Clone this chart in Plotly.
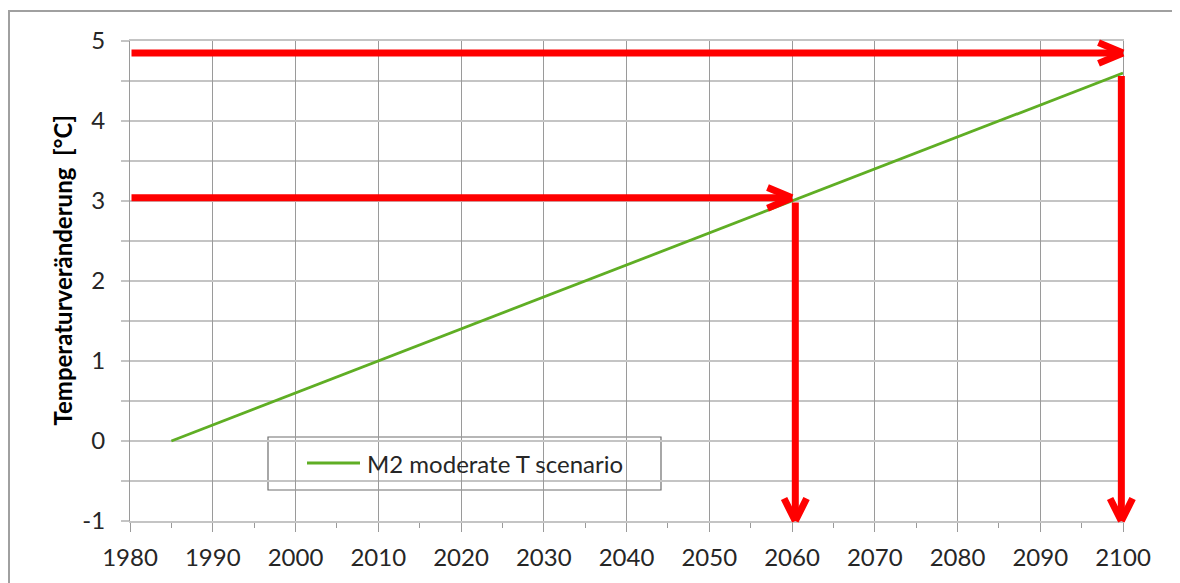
import plotly.graph_objects as go

# ---- data ----
years = [1985, 1990, 1995, 2000, 2005, 2010, 2015, 2020, 2025, 2030, 2035, 2040,
         2045, 2050, 2055, 2060, 2065, 2070, 2075, 2080, 2085, 2090, 2095, 2100]
temp_change = [0.0, 0.2, 0.4, 0.6, 0.8, 1.0, 1.2, 1.4, 1.6, 1.8, 2.0, 2.2,
               2.4, 2.6, 2.8, 3.0, 3.2, 3.4, 3.6, 3.8, 4.0, 4.2, 4.4, 4.6]
series_name = "M2 moderate T scenario"

# red reading arrows (start -> tip), in data units
arrow_x_start = [1980, 1980, 2060.4, 2099.8]
arrow_y_start = [4.85, 3.04, 3.0, 4.58]
arrow_x_tip = [2100, 2060, 2060.4, 2099.8]
arrow_y_tip = [4.85, 3.04, -1.0, -1.0]
arrow_dir = ["right", "right", "down", "down"]

x_ticks = list(range(1980, 2101, 10))
y_ticks = [-1, 0, 1, 2, 3, 4, 5]

FONT = "Lato, 'Open Sans', sans-serif"
RED = "#ff0000"
GREEN = "#5fae24"
VGRID = "#9a9a9a"
HGRID = "#c4c4c4"

# figure geometry (px) -> helpers to convert pixel positions to paper fractions
W, H = 1180, 583
ML, MR, MT, MB = 122, 65, 33, 70
PW, PH = W - ML - MR, H - MT - MB


def px(xpix):
    return (xpix - ML) / PW


def py(ypix):
    return (H - MB - ypix) / PH


fig = go.Figure()
fig.add_trace(go.Scatter(
    x=years, y=temp_change, mode="lines", name=series_name,
    line=dict(color=GREEN, width=2.8), showlegend=False,
))

annotations = []
for xs, ys, xt, yt, d in zip(arrow_x_start, arrow_y_start, arrow_x_tip, arrow_y_tip, arrow_dir):
    # shaft
    annotations.append(dict(
        x=xt, y=yt, ax=xs, ay=ys, xref="x", yref="y", axref="x", ayref="y",
        text="", showarrow=True, arrowhead=0, arrowwidth=7, arrowcolor=RED,
    ))
    # open chevron arms
    if d == "right":
        arms = [(-26, -11), (-26, 11)]
    else:
        arms = [(-12, -24), (12, -24)]
    for ax, ay in arms:
        annotations.append(dict(
            x=xt, y=yt, ax=ax, ay=ay, xref="x", yref="y",
            text="", showarrow=True, arrowhead=0, arrowwidth=7, arrowcolor=RED,
        ))

# y-axis title
annotations.append(dict(
    text="<b>Temperaturveränderung  [°C]</b>", textangle=-90,
    xref="paper", yref="paper", x=px(54), y=py(262.5),
    xanchor="center", yanchor="middle", showarrow=False,
    font=dict(family=FONT, size=24, color="#000000"),
))

# legend (box + sample line + label)
annotations.append(dict(
    text=series_name, xref="paper", yref="paper", x=px(357), y=py(455),
    xanchor="left", yanchor="middle", showarrow=False,
    font=dict(family=FONT, size=24, color="#262626"),
))

shapes = [
    dict(type="rect", xref="paper", yref="paper",
         x0=px(1), x1=px(1167), y0=py(600), y1=py(3),
         line=dict(color="#a0a0a0", width=2), fillcolor="rgba(0,0,0,0)", layer="below"),
    dict(type="rect", xref="paper", yref="paper",
         x0=px(260), x1=px(653), y0=py(482), y1=py(429),
         line=dict(color="#6e6e6e", width=1.2), fillcolor="white", layer="between"),
    dict(type="line", xref="paper", yref="paper",
         x0=px(299), x1=px(352), y0=py(455), y1=py(455),
         line=dict(color=GREEN, width=2.8), layer="above"),
]

fig.update_layout(
    width=W, height=H,
    margin=dict(l=ML, r=MR, t=MT, b=MB, autoexpand=False),
    paper_bgcolor="white", plot_bgcolor="white",
    font=dict(family=FONT, size=24, color="#262626"),
    annotations=annotations, shapes=shapes, showlegend=False,
)

fig.update_xaxes(
    range=[1980, 2100], tickvals=x_ticks, ticktext=[str(v) for v in x_ticks],
    showgrid=True, gridcolor=VGRID, gridwidth=1.2,
    showline=True, linecolor=HGRID, linewidth=1.5, mirror=True,
    ticks="outside", ticklen=9, tickcolor=VGRID, tickwidth=1.2,
    minor=dict(dtick=5, tick0=1980, ticks="outside", ticklen=5, tickcolor=VGRID, showgrid=False),
    zeroline=False, automargin=False, ticklabelstandoff=5,
)
fig.update_yaxes(
    range=[-1, 5], tickvals=y_ticks, ticktext=[str(v) for v in y_ticks],
    showgrid=True, gridcolor=HGRID, gridwidth=1.5,
    showline=True, linecolor=VGRID, linewidth=1.2, mirror=True,
    ticks="outside", ticklen=8, tickcolor=HGRID, tickwidth=1.5,
    minor=dict(dtick=0.5, tick0=0, ticks="outside", ticklen=8, tickcolor=HGRID,
               showgrid=True, gridcolor=HGRID, gridwidth=1.5),
    zeroline=False, automargin=False, ticklabelstandoff=11,
)

fig.write_html("out.html")
